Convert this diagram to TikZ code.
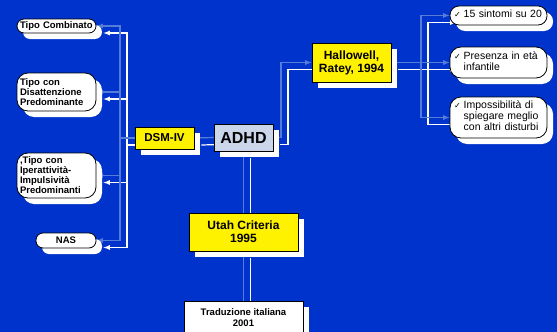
\documentclass[tikz,border=0pt]{standalone}
\usepackage{fontspec}
\setmainfont{Liberation Sans}
\newfontfamily\simboli{DejaVu Sans}
\usetikzlibrary{shadows}

\definecolor{sfondo}{RGB}{0,51,204}
\definecolor{lineachiara}{RGB}{85,125,215}
\definecolor{grigioadhd}{RGB}{204,214,235}

\pgfdeclarelayer{fondo}
\pgfdeclarelayer{linee}
\pgfsetlayers{fondo,linee,main}

\newcommand{\spunta}{{\simboli\fontsize{8pt}{8pt}\selectfont ✓}\hspace{3pt}}
\newcommand{\voce}[1]{\spunta\begin{tabular}[t]{@{}l@{}}#1\end{tabular}}

\tikzset{
  ombra/.style={drop shadow={shadow xshift=6pt, shadow yshift=-6pt, fill=white, opacity=1}},
  scatola/.style={draw=black, line width=0.8pt, ombra, align=center, inner sep=2pt},
  giallo/.style={scatola, fill=yellow},
  foglia/.style={scatola, fill=white, rounded corners=7pt, align=left, inner xsep=3pt,
    text width=73pt, minimum height=#1, font=\fontsize{9.5pt}{10pt}\selectfont\bfseries},
  foglia/.default=14pt,
  criterio/.style={scatola, fill=white, rounded corners=9pt, align=left, inner xsep=4pt,
    text width=89pt, minimum height=#1, font=\fontsize{10.5pt}{11pt}\selectfont},
  criterio/.default=19pt,
  conn/.style={lineachiara, line width=1.2pt},
  connombra/.style={white, line width=1.2pt, transform canvas={shift={(7pt,-7pt)}}},
}

\begin{document}
\begin{tikzpicture}[x=1pt, y=-1pt, >=latex]
  % Sfondo
  \useasboundingbox (0,0) rectangle (557,332);
  \begin{pgfonlayer}{fondo}
    \fill[sfondo] (0,0) rectangle (557,332);
  \end{pgfonlayer}

  % Coordinate dei bus verticali
  \coordinate (busS) at (120,0);
  \coordinate (busD) at (281,0);
  \coordinate (busH) at (421,0);

  % Nodo centrale e rami
  \node[scatola, fill=grigioadhd, minimum width=59pt, minimum height=27pt,
    font=\fontsize{16pt}{16pt}\selectfont\bfseries] (adhd) at (243.5,137.5) {ADHD};
  \node[giallo, minimum width=59pt, minimum height=22pt,
    font=\fontsize{11.5pt}{12pt}\selectfont\bfseries] (dsm) at (164.5,138) {DSM-IV};
  \node[giallo, minimum width=79pt, minimum height=39pt,
    font=\fontsize{12pt}{13pt}\selectfont\bfseries] (hall) at (351.5,62.5) {Hallowell,\\Ratey, 1994};
  \node[giallo, minimum width=109pt, minimum height=38pt,
    font=\fontsize{12pt}{13pt}\selectfont\bfseries] (utah) at (243.5,232) {Utah Criteria\\1995};
  \node[scatola, fill=white, minimum width=119pt, minimum height=34pt,
    font=\fontsize{9.5pt}{11pt}\selectfont\bfseries] (trad) at (243.5,318) {Traduzione italiana\\2001};

  % Sottotipi DSM-IV
  \node[foglia] (comb) at (56.5,26) {Tipo Combinato};
  \node[foglia=38pt, rounded corners=11pt] (disatt) at (56.5,92) {Tipo con\\Disattenzione\\Predominante};
  \node[foglia=45pt, rounded corners=11pt] (iper) at (56.5,175.5) {,Tipo con\\Iperattività-\\Impulsività\\Predominanti};
  \node[foglia=15pt, text width=54pt, align=center] (nas) at (66,240.5) {NAS};

  % Criteri di Hallowell e Ratey
  \node[criterio] (sint) at (498.5,15.5) {\voce{15 sintomi su 20}};
  \node[criterio=31pt, rounded corners=11pt] (pres) at (498.5,62.5) {\voce{Presenza in età\\infantile}};
  \node[criterio=41pt, rounded corners=11pt] (imp) at (498.5,117.5) {\voce{Impossibilità di\\spiegare meglio\\con altri disturbi}};

  % Connettori (prima l'ombra bianca, poi la linea chiara)
  \begin{pgfonlayer}{linee}
    \foreach \s in {connombra,conn} {
      \draw[\s] (adhd.west) -- (dsm.east);
      \draw[\s, ->] (dsm.west) -- (busS |- dsm.west) |- (comb.east);
      \draw[\s, ->] (dsm.west) -- (busS |- dsm.west) |- (disatt.east);
      \draw[\s, ->] (dsm.west) -- (busS |- dsm.west) |- (iper.east);
      \draw[\s, ->] (dsm.west) -- (busS |- dsm.west) |- (nas.east);
      \draw[\s, ->] (adhd.east) -- (busD |- adhd.east) |- (hall.west);
      \draw[\s, ->] (hall.east) -- (busH |- hall.east) |- (sint.west);
      \draw[\s, ->] (hall.east) -- (pres.west);
      \draw[\s, ->] (hall.east) -- (busH |- hall.east) |- (imp.west);
      \draw[\s] (adhd.south) -- (utah.north);
      \draw[\s] (utah.south) -- (trad.north);
    }
  \end{pgfonlayer}
\end{tikzpicture}
\end{document}
